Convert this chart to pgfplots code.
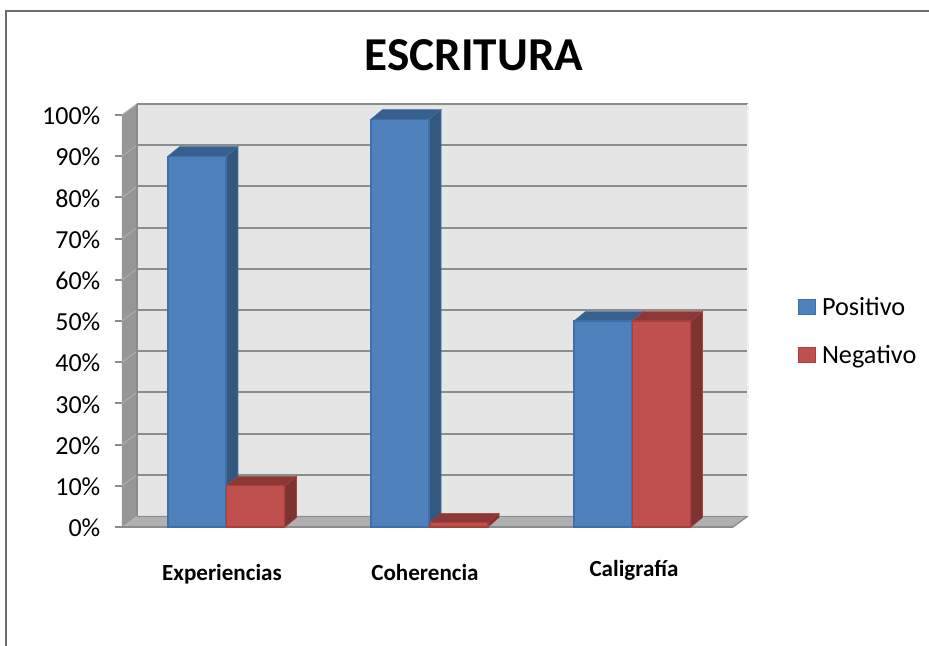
\documentclass[border=0pt]{standalone}
\usepackage{pgfplots}
\pgfplotsset{compat=1.18}
\usepackage{fontspec}
\setmainfont{Carlito}
\definecolor{blueF}{HTML}{4F81BD}
\definecolor{blueE}{HTML}{3F6FA8}
\definecolor{blueT}{HTML}{37608F}
\definecolor{blueS}{HTML}{33577F}
\definecolor{redF}{HTML}{C0504D}
\definecolor{redE}{HTML}{A5403D}
\definecolor{redT}{HTML}{8C3836}
\definecolor{redS}{HTML}{7E3331}
\definecolor{gridc}{HTML}{8C8C8C}
\begin{document}
\begin{tikzpicture}[x=0.75pt,y=0.75pt]
\path[use as bounding box] (-122,-119) rectangle (807,527);
\draw[color=gray!85!black,line width=1.5pt] (-116,-119) -- (-116,516) -- (807,516);
\begin{axis}[
  scale only axis, width=469.5pt, height=317.25pt,
  xmin=122, xmax=748, ymin=0, ymax=102.67,
  clip=false,
  axis line style={draw=none},
  xtick={222,425,634},
  xticklabels={Experiencias,Coherencia,\raisebox{3pt}{Caligrafía}},
  xticklabel style={font=\fontsize{17.3}{20}\selectfont\bfseries, yshift=-20pt, text height=11pt, text depth=3.5pt},
  xtick style={draw=none},
  ytick={0,10,20,30,40,50,60,70,80,90,100},
  yticklabel={\pgfmathprintnumber[assume math mode=true]{\tick}\%},
  yticklabel style={font=\fontsize{19.5}{23}\selectfont, xshift=-7.5pt, yshift=-0.7pt},
  ytick style={draw=gridc, line width=1.5pt},
  tick align=outside, major tick length=5.25pt,
  tick pos=left,
  legend style={at={(axis cs:798,56.5)}, anchor=north west, draw=none, fill=none,
    font=\fontsize{19.7}{23}\selectfont, row sep=17pt, inner sep=0pt},
  legend cell align=left,
]
% walls
\addplot[forget plot, fill=black!10, draw=none] coordinates {(137,2.67)(748,2.67)(748,102.67)(137,102.67)} --cycle;
\addplot[forget plot, fill=gray!82, draw=none] coordinates {(122,0)(137,2.67)(137,102.67)(122,100)} --cycle;
\addplot[forget plot, fill=black!31, draw=none] coordinates {(122,0)(137,2.67)(748,2.67)(733,0)} --cycle;
% back-wall gridlines
\foreach \v in {12.67,22.67,32.67,42.67,52.67,62.67,72.67,82.67,92.67,102.67}{
  \addplot[forget plot, gridc, line width=1.6pt] coordinates {(137,\v)(748,\v)};
}
\foreach \v/\w in {10/12.67,20/22.67,30/32.67,40/42.67,50/52.67,60/62.67,70/72.67,80/82.67,90/92.67,100/102.67}{
  \addplot[forget plot, gray!65, line width=0.8pt] coordinates {(122,\v)(137,\w)};
}
\addplot[forget plot, black!45, line width=1pt] coordinates {(137,2.67)(137,102.67)};
\addplot[forget plot, gridc, line width=0.7pt] coordinates {(137,2.67)(748,2.67)};
\addplot[forget plot, gridc, line width=1pt] coordinates {(733,0)(748,2.67)};
\addplot[forget plot, gridc, line width=1.8pt] coordinates {(122,0)(733,0)};
\addplot[forget plot, black!5, line width=1pt] coordinates {(748,2.67)(748,102.67)};
% bars: depth faces, positive series
\addplot[forget plot, fill=blueS, draw=blueE, line width=.4pt] coordinates {(226,90)(238,92.3)(238,2.3)(226,0)} --cycle;
\addplot[forget plot, fill=blueT, draw=blueE, line width=.4pt] coordinates {(168,90)(179.5,92.3)(238,92.3)(226,90)} --cycle;
\addplot[forget plot, fill=blueS, draw=blueE, line width=.4pt] coordinates {(429,99)(441,101.3)(441,2.3)(429,0)} --cycle;
\addplot[forget plot, fill=blueT, draw=blueE, line width=.4pt] coordinates {(371,99)(382.5,101.3)(441,101.3)(429,99)} --cycle;
\addplot[forget plot, fill=blueT, draw=blueE, line width=.4pt] coordinates {(574,50)(585.5,52.3)(644,52.3)(632,50)} --cycle;
% bars: depth faces, negative series
\addplot[forget plot, fill=redS, draw=redE, line width=.4pt] coordinates {(285,10)(296.5,12.3)(296.5,2.3)(285,0)} --cycle;
\addplot[forget plot, fill=redT, draw=redE, line width=.4pt] coordinates {(226,10)(238,12.3)(296.5,12.3)(285,10)} --cycle;
\addplot[forget plot, fill=redS, draw=redE, line width=.4pt] coordinates {(488,1)(499,3.3)(499,2.3)(488,0)} --cycle;
\addplot[forget plot, fill=redT, draw=redE, line width=.4pt] coordinates {(430,1)(441,3.3)(499,3.3)(488,1)} --cycle;
\addplot[forget plot, fill=redS, draw=redE, line width=.4pt] coordinates {(691,50)(702.5,52.3)(702.5,2.3)(691,0)} --cycle;
\addplot[forget plot, fill=redT, draw=redE, line width=.4pt] coordinates {(632,50)(644,52.3)(702.5,52.3)(691,50)} --cycle;
% front faces: the data
\addplot[ybar, bar width=43.5pt, fill=blueF, draw=blueE, line width=.8pt,
  legend image code/.code={\draw[fill=blueF,draw=blueE,line width=.8pt] (0pt,-5.5pt) rectangle (12.5pt,6pt); \path (15pt,0pt);}]
  coordinates {(197,90)(400,99)(603,50)};
\addlegendentry{Positivo}
\addplot[ybar, bar width=43.5pt, fill=redF, draw=redE, line width=.8pt,
  legend image code/.code={\draw[fill=redF,draw=redE,line width=.8pt] (0pt,-5.5pt) rectangle (12.5pt,6pt); \path (15pt,0pt);}]
  coordinates {(255.5,10)(459,1)(661.5,50)};
\addlegendentry{Negativo}
\end{axis}
\node[font=\fontsize{35.4}{40}\selectfont\bfseries, anchor=center] at (474-122,527-55) {ESCRITURA};
\end{tikzpicture}
\end{document}
